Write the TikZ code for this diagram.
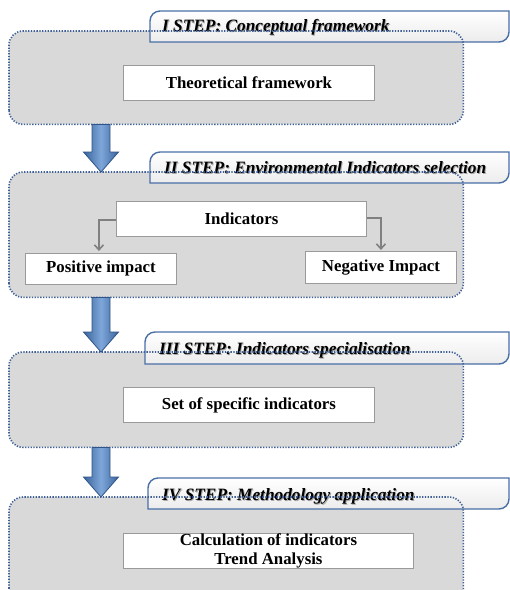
\documentclass[tikz,border=0pt]{standalone}
\usepackage{fontspec}
\setmainfont{Liberation Serif}
\usetikzlibrary{calc,arrows.meta}
\definecolor{panelfill}{HTML}{D9D9D9}
\definecolor{paneldot}{HTML}{3F6096}
\definecolor{tabline}{HTML}{4A6FA5}
\definecolor{tabfill}{HTML}{ECECEC}
\definecolor{boxline}{HTML}{9A9A9A}
\definecolor{connline}{HTML}{808080}
\definecolor{arrowdark}{HTML}{3A659C}
\definecolor{arrowlight}{HTML}{7EA6D9}
\definecolor{arrowedge}{HTML}{30548A}
\tikzset{
  panel/.style={rectangle, rounded corners=14pt, fill=panelfill, inner sep=0pt, anchor=north west},
  panelborder/.style={draw=paneldot, line width=1.6pt, dash pattern=on 1.3pt off 1.5pt, rounded corners=14pt},
  tabshape/.style={draw=tabline, line width=1.4pt, top color=white, bottom color=tabfill},
  tabtext/.style={font=\bfseries\itshape\fontsize{17.3}{20}\selectfont, inner sep=0pt, anchor=west},
  tabshadow/.style={tabtext, text=black!35},
  stepbox/.style={rectangle, draw=boxline, line width=0.9pt, fill=white, inner sep=0pt, anchor=north west,
    font=\bfseries\fontsize{16.8}{20.5}\selectfont, align=center},
  conn/.style={draw=connline, line width=1.6pt, -{Straight Barb[length=5pt,width=9pt]}},
  arrowshade/.style={left color=arrowdark, right color=arrowdark, middle color=arrowlight, draw=arrowedge, line width=0.8pt}
}
\newcommand\steptab[4]{%
  \draw[tabshape] (#1,#4) -- (#1,#2+10) .. controls (#1,#2+4.5) and (#1+4.5,#2) .. (#1+10,#2)
    -- (#3,#2) -- (#3,#4-10) .. controls (#3,#4-4.5) and (#3-4.5,#4) .. (#3-10,#4) -- cycle;}
\newcommand\steptext[4]{%
  \node[tabshadow] at ($(#2,#3)+(0.9,0.9)$) {#4};
  \node[tabtext] (#1) at (#2,#3) {#4};}
\newcommand\blockarrow[2]{%
  \path[arrowshade] let \p1=(#1), \p2=(#2) in
    (\x1-9pt,\y1) -- (\x1+9pt,\y1) -- (\x1+9pt,\y2+20pt) -- (\x1+17.5pt,\y2+20pt)
    -- (\x1,\y2) -- (\x1-17.5pt,\y2+20pt) -- (\x1-9pt,\y2+20pt) -- cycle;}
\begin{document}
\begin{tikzpicture}[x=1pt,y=-1pt]
\useasboundingbox (0,0) rectangle (510,590);
\clip (0,0) rectangle (510,590);
\fill[white] (0,0) rectangle (510,590);

% panel 1
\node[panel, minimum width=454pt, minimum height=93pt] (p1) at (9,31) {};
\steptab{150}{11}{509}{42}
\steptext{t1}{162}{27}{I STEP: Conceptual framework}
\draw[panelborder] (p1.south west) rectangle (p1.north east);
\node[stepbox, minimum width=251pt, minimum height=35pt] (b1) at (123,65) {Theoretical framework};

% panel 2
\node[panel, minimum width=454pt, minimum height=125pt] (p2) at (9,172) {};
\steptab{150}{152}{509}{183}
\steptext{t2}{164}{168}{II STEP: Environmental Indicators selection}
\draw[panelborder] (p2.south west) rectangle (p2.north east);
\node[stepbox, minimum width=250pt, minimum height=35pt] (ind) at (116,201) {Indicators};
\node[stepbox, minimum width=151pt, minimum height=31pt] (pos) at (25,253) {Positive impact};
\node[stepbox, minimum width=151pt, minimum height=32pt] (neg) at (305,251) {Negative Impact};
\draw[conn, shorten >=2pt] ([yshift=-1pt]ind.west) -| ([xshift=-2pt]pos.north);
\draw[conn, shorten >=1pt] ([yshift=1pt]ind.east) -| (neg.north);

% panel 3
\node[panel, minimum width=454pt, minimum height=95pt] (p3) at (9,352) {};
\steptab{145}{332}{509}{364}
\steptext{t3}{159}{350}{III STEP: Indicators specialisation}
\draw[panelborder] (p3.south west) rectangle (p3.north east);
\node[stepbox, minimum width=251pt, minimum height=35pt] (b3) at (123,387) {Set of specific indicators};

% panel 4
\node[panel, minimum width=454pt, minimum height=105pt] (p4) at (9,497) {};
\steptab{148}{478}{509}{509}
\steptext{t4}{162}{496}{IV STEP: Methodology application}
\draw[panelborder] (p4.south west) rectangle (p4.north east);
\node[stepbox, minimum width=290pt, minimum height=35pt] (b4) at (123,533) {Calculation of indicators\\[-1pt]Trend Analysis};

% block arrows
\coordinate (a1s) at ($(p1.south west)+(92,0)$);
\coordinate (a1e) at ($(p2.north west)+(92,0)$);
\coordinate (a2s) at ($(p2.south west)+(92,0)$);
\coordinate (a2e) at ($(p3.north west)+(92,0)$);
\coordinate (a3s) at ($(p3.south west)+(92,0)$);
\coordinate (a3e) at ($(p4.north west)+(92,0)$);
\blockarrow{a1s}{a1e}
\blockarrow{a2s}{a2e}
\blockarrow{a3s}{a3e}
\end{tikzpicture}
\end{document}
